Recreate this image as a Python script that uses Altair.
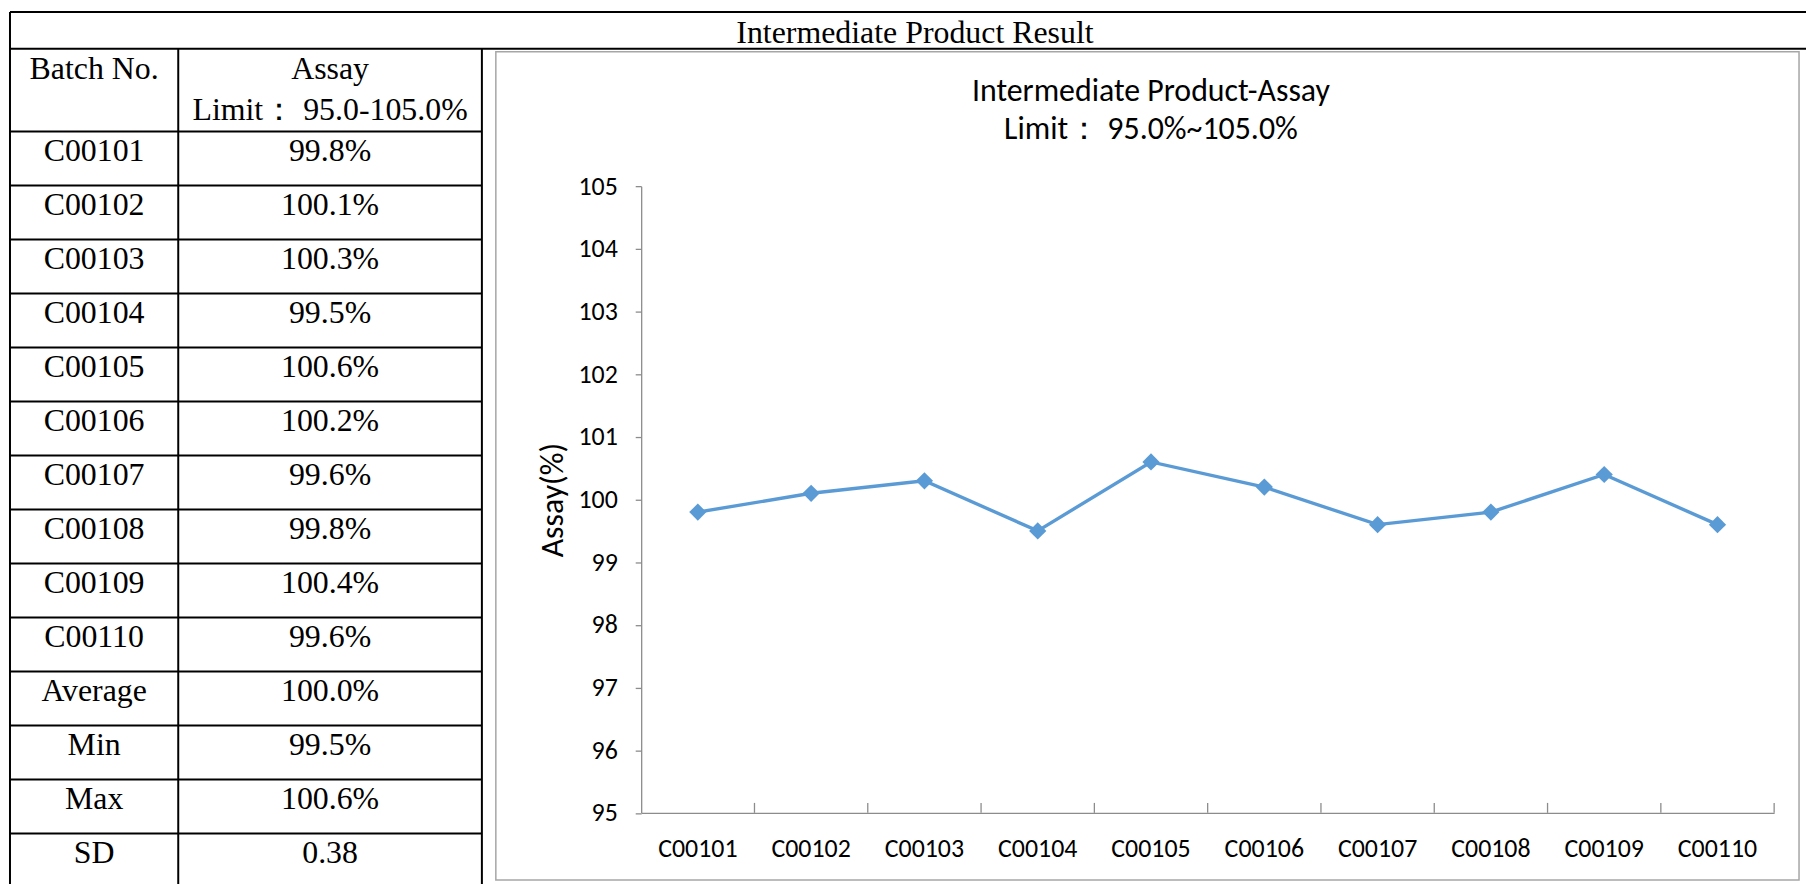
import altair as alt
import pandas as pd

# ---------------- data ----------------
batches = ["C00101", "C00102", "C00103", "C00104", "C00105",
           "C00106", "C00107", "C00108", "C00109", "C00110"]
assay = [99.8, 100.1, 100.3, 99.5, 100.6, 100.2, 99.6, 99.8, 100.4, 99.6]
assay_text = ["99.8%", "100.1%", "100.3%", "99.5%", "100.6%",
              "100.2%", "99.6%", "99.8%", "100.4%", "99.6%"]
stat_names = ["Average", "Min", "Max", "SD"]
stat_text = ["100.0%", "99.5%", "100.6%", "0.38"]
table_title = "Intermediate Product Result"
col_headers = ["Batch No.", "Assay", "Limit：  95.0-105.0%"]
chart_title = ["Intermediate Product-Assay", "Limit：  95.0%~105.0%"]
y_ticks = [95, 96, 97, 98, 99, 100, 101, 102, 103, 104, 105]
y_title = "Assay(%)"

# ---------------- layout / style ----------------
W, H = 1806, 876
SERIF = "Liberation Serif, Times New Roman, serif"
SANS = "Carlito, Calibri, Lato, sans-serif"
BLUE = "#5B9BD5"
GRAY = "#8c8c8c"

ROW_H = 54.25
ROW0 = 122.0
U_DOM = [-2.2, 14.2]
U_RANGE = [ROW0 + U_DOM[0] * ROW_H, ROW0 + U_DOM[1] * ROW_H]
X_TBL = alt.Scale(domain=[0, W], range=[0, W], nice=False, zero=False)
Y_TBL = alt.Scale(domain=U_DOM, range=U_RANGE, nice=False, zero=False)

X_LEFT, X_C1, X_C2 = 2, 171, 476
U_TOP, U_HEAD = -2.212, -1.530
n_rows = len(batches) + len(stat_names)

# grid lines of the table
grid = [dict(x=X_LEFT, x2=W, y=U_TOP, y2=U_TOP),
        dict(x=X_LEFT, x2=W, y=U_HEAD, y2=U_HEAD)]
for i in range(n_rows):
    grid.append(dict(x=X_LEFT, x2=X_C2, y=i, y2=i))
grid.append(dict(x=X_LEFT, x2=X_LEFT, y=U_TOP, y2=U_DOM[1]))
grid.append(dict(x=X_C1, x2=X_C1, y=U_HEAD, y2=U_DOM[1]))
grid.append(dict(x=X_C2, x2=X_C2, y=U_HEAD, y2=U_DOM[1]))
grid_df = pd.DataFrame(grid)

c0 = (X_LEFT + X_C1) / 2
c1 = (X_C1 + X_C2) / 2
cells = [dict(x=911, y=-1.641, text=table_title),
         dict(x=c0, y=-0.977, text=col_headers[0]),
         dict(x=c1, y=-0.977, text=col_headers[1]),
         dict(x=c1, y=-0.203, text=col_headers[2])]
left_col = batches + stat_names
right_col = assay_text + stat_text
for i, (a, b) in enumerate(zip(left_col, right_col)):
    cells.append(dict(x=c0, y=i + 0.54, text=a))
    cells.append(dict(x=c1, y=i + 0.54, text=b))
cells_df = pd.DataFrame(cells)

grid_layer = alt.Chart(grid_df).mark_rule(color="black", strokeWidth=2).encode(
    x=alt.X("x:Q", scale=X_TBL, axis=None),
    x2="x2:Q",
    y=alt.Y("y:Q", scale=Y_TBL, axis=None),
    y2="y2:Q",
)
text_layer = alt.Chart(cells_df).mark_text(
    font=SERIF, fontSize=32, baseline="alphabetic", align="center", color="black"
).encode(
    x=alt.X("x:Q", scale=X_TBL, axis=None),
    y=alt.Y("y:Q", scale=Y_TBL, axis=None),
    text="text:N",
)

one = pd.DataFrame({"k": [0]})
border = alt.Chart(one).mark_rect(
    fillOpacity=0, stroke="#a6a6a6", strokeWidth=1.5
).encode(
    x=alt.value(490), x2=alt.value(1799), y=alt.value(42), y2=alt.value(874)
)
title1 = alt.Chart(one).mark_text(
    font=SANS, fontSize=32, baseline="middle", align="center", color="black"
).encode(x=alt.value(1148), y=alt.value(81), text=alt.value(chart_title[0]))
title2 = alt.Chart(one).mark_text(
    font=SANS, fontSize=32, baseline="middle", align="center", color="black"
).encode(x=alt.value(1148), y=alt.value(120), text=alt.value(chart_title[1]))

# ---------------- line chart ----------------
X0, X1 = 636, 1774
Y95, Y105 = 806.5, 177.1
df = pd.DataFrame({"batch": batches, "assay": assay})

XP = alt.Scale(type="point", domain=batches, range=[X0, X1], padding=0.5)
XB = alt.Scale(type="band", domain=batches, range=[X0, X1], paddingInner=0, paddingOuter=0)
YS = alt.Scale(domain=[95, 105], range=[Y95, Y105], nice=False, zero=False)

y_axis = alt.Axis(
    values=y_ticks, format="d", orient="left", offset=-X0, grid=False,
    domainColor=GRAY, domainWidth=1.3, tickColor=GRAY, tickSize=6, tickWidth=1.3,
    labelPadding=18, labelFont=SANS, labelFontSize=26, labelColor="black",
    title=y_title, titleFont=SANS, titleFontSize=32, titleFontWeight="normal",
    titleColor="black", titleX=-89, titleY=(Y95 + Y105) / 2, titleAngle=270,
    titleBaseline="middle", titleAlign="center",
)
x_axis = alt.Axis(
    orient="bottom", offset=-(H - Y95), grid=False, ticks=False, tickSize=0,
    bandPosition=0.5, domainColor=GRAY, domainWidth=1.3,
    labelPadding=35.5, labelBaseline="middle", labelAngle=0,
    labelFont=SANS, labelFontSize=26, labelColor="black", title=None,
)

ticks_layer = alt.Chart(df).mark_rule(color=GRAY, strokeWidth=1.3).encode(
    x=alt.X("batch:N", bandPosition=1, scale=XB, axis=x_axis, sort=batches),
    y=alt.value(Y95),
    y2=alt.value(Y95 - 10),
)
line_layer = alt.Chart(df).mark_line(color=BLUE, strokeWidth=3.4).encode(
    x=alt.X("batch:N", scale=XP, axis=None, sort=batches),
    y=alt.Y("assay:Q", scale=YS, axis=y_axis),
)
point_layer = alt.Chart(df).mark_point(
    shape="diamond", filled=True, size=300, color=BLUE, opacity=1
).encode(
    x=alt.X("batch:N", scale=XP, axis=None, sort=batches),
    y=alt.Y("assay:Q", scale=YS, axis=None),
)

chart = alt.layer(
    border, grid_layer, text_layer, title1, title2,
    ticks_layer, line_layer, point_layer,
).resolve_scale(
    x="independent", y="independent"
).properties(
    width=W, height=H, padding=0, autosize=alt.AutoSizeParams(type="none")
).configure_view(stroke=None)

chart.save("out.html", embed_options={"renderer": "svg", "actions": False})
